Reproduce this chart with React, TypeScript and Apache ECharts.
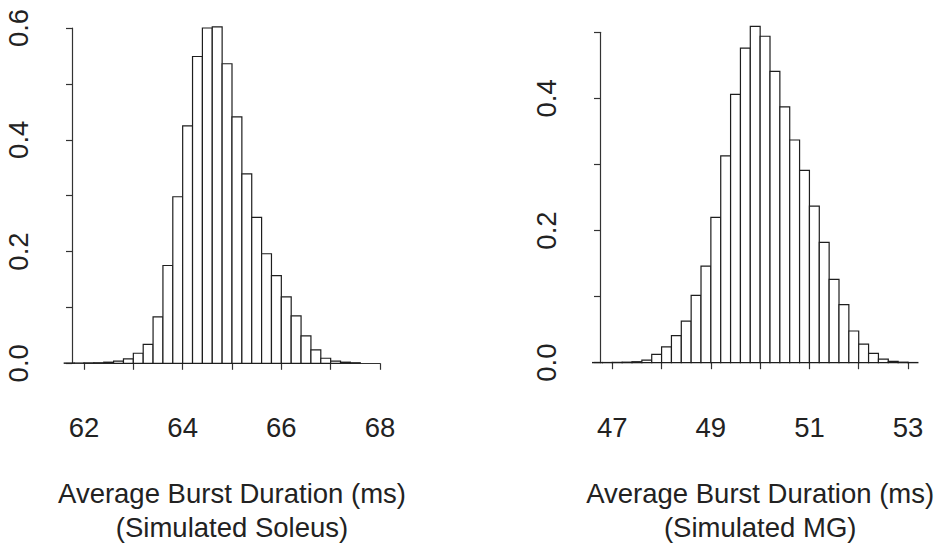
import React, { useEffect, useRef } from "react";
import * as echarts from "echarts";

// Histogram densities, bin width 0.2
const binWidth = 0.2;
const soleusFirstBreak = 61.6;
const soleusDensity = [
  0.0005, 0.0005, 0.0008, 0.001, 0.002, 0.004, 0.008, 0.018, 0.034, 0.083,
  0.175, 0.298, 0.425, 0.549, 0.6, 0.602, 0.536, 0.441, 0.339, 0.261,
  0.196, 0.157, 0.119, 0.085, 0.049, 0.024, 0.009, 0.004, 0.002, 0.001,
];
const mgFirstBreak = 46.6;
const mgDensity = [
  0.0003, 0.0003, 0.0005, 0.0008, 0.0015, 0.004, 0.0126, 0.024, 0.041, 0.063,
  0.102, 0.146, 0.22, 0.313, 0.406, 0.476, 0.509, 0.494, 0.441, 0.387,
  0.337, 0.291, 0.237, 0.182, 0.126, 0.088, 0.048, 0.028, 0.014, 0.0055,
  0.002, 0.0008, 0.0003,
];

const soleusXTicks = { min: 62, max: 68, labelEvery: 2 };
const mgXTicks = { min: 47, max: 53, labelEvery: 2 };
const soleusYMax = 0.6;
const mgYMax = 0.5;

const xTitle = "Average Burst Duration (ms)";
const soleusSub = "(Simulated Soleus)";
const mgSub = "(Simulated MG)";

const FONT = "'Liberation Sans', Arial, Helvetica, sans-serif";
const TEXT = "#222";
const LINE = "#333";
const FS = 27.5;

function toBins(first: number, dens: number[]) {
  return dens.map((v, i) => {
    const a = +(first + i * binWidth).toFixed(4);
    const b = +(first + (i + 1) * binWidth).toFixed(4);
    return [a, b, v];
  });
}

function renderBar(params: any, api: any) {
  const x0 = api.value(0);
  const x1 = api.value(1);
  const y = api.value(2);
  const p0 = api.coord([x0, y]);
  const p1 = api.coord([x1, 0]);
  return {
    type: "rect",
    shape: { x: p0[0], y: p0[1], width: p1[0] - p0[0], height: p1[1] - p0[1] },
    style: { fill: "#ffffff", stroke: "#1e1e1e", lineWidth: 1.2 },
  };
}

function xAxisFor(grid: number, t: { min: number; max: number; labelEvery: number }, name: string, offset: number) {
  return {
    type: "value",
    gridIndex: grid,
    min: t.min,
    max: t.max,
    interval: 1,
    offset,
    position: "bottom",
    splitLine: { show: false },
    axisLine: { show: true, lineStyle: { color: LINE, width: 1.2 } },
    axisTick: { show: true, length: 6.5, lineStyle: { color: LINE, width: 1.2 } },
    axisLabel: {
      margin: 37,
      fontSize: FS,
      fontFamily: FONT,
      color: TEXT,
      showMinLabel: true,
      showMaxLabel: true,
      formatter: (v: number) => (Math.round(v - t.min) % t.labelEvery === 0 ? String(Math.round(v)) : ""),
    },
    name,
    nameLocation: "middle",
    nameGap: 100,
    nameTextStyle: { fontSize: FS, fontFamily: FONT, color: TEXT, lineHeight: 34, align: "center" },
  };
}

function yAxisFor(grid: number, max: number, offset: number) {
  return {
    type: "value",
    gridIndex: grid,
    min: 0,
    max,
    interval: 0.1,
    offset,
    position: "left",
    splitLine: { show: false },
    axisLine: { show: true, lineStyle: { color: LINE, width: 1.2 } },
    axisTick: { show: true, length: 6, lineStyle: { color: LINE, width: 1.2 } },
    axisLabel: {
      rotate: 90,
      margin: 40,
      fontSize: FS,
      fontFamily: FONT,
      color: TEXT,
      formatter: (v: number) => (Math.round(v * 10) % 2 === 0 ? v.toFixed(1) : ""),
    },
  };
}

export default function App() {
  const ref = useRef<HTMLDivElement>(null);
  useEffect(() => {
    document.body.style.margin = "0";
    if (!ref.current) return;
    const chart = echarts.init(ref.current, null, { renderer: "svg" });
    chart.setOption({
      animation: false,
      backgroundColor: "#ffffff",
      grid: [
        { left: 84, top: 28, width: 296, height: 335.3, containLabel: false, outerBoundsMode: "none" },
        { left: 612.3, top: 32.3, width: 295.7, height: 330.4, containLabel: false, outerBoundsMode: "none" },
      ],
      xAxis: [
        xAxisFor(0, soleusXTicks, xTitle + "\n" + soleusSub, 12.7),
        xAxisFor(1, mgXTicks, xTitle + "\n" + mgSub, 13.3),
      ],
      yAxis: [yAxisFor(0, soleusYMax, 12), yAxisFor(1, mgYMax, 12.3)],
      series: [
        {
          type: "custom",
          xAxisIndex: 0,
          yAxisIndex: 0,
          clip: false,
          renderItem: renderBar,
          encode: { x: [0, 1], y: 2 },
          data: toBins(soleusFirstBreak, soleusDensity),
        },
        {
          type: "custom",
          xAxisIndex: 1,
          yAxisIndex: 1,
          clip: false,
          renderItem: renderBar,
          encode: { x: [0, 1], y: 2 },
          data: toBins(mgFirstBreak, mgDensity),
        },
      ],
    });
    return () => chart.dispose();
  }, []);
  return <div ref={ref} style={{ width: 940, height: 545 }} />;
}
